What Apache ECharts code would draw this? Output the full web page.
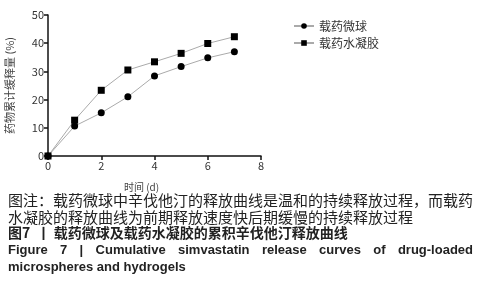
<!DOCTYPE html>
<html>
<head>
<meta charset="utf-8">
<script src="https://cdn.jsdelivr.net/npm/echarts@6/dist/echarts.min.js"></script>
<style>
  html, body { margin: 0; padding: 0; background: #fff; }
  #chart { width: 481px; height: 300px; }
</style>
</head>
<body>
<div id="chart"></div>
<script>
  // 数据
  var days = [0, 1, 2, 3, 4, 5, 6, 7]
  var microspheres = [0, 10.6, 15.3, 21.0, 28.4, 31.7, 34.8, 37.0]
  var hydrogel = [0, 12.7, 23.3, 30.5, 33.4, 36.4, 39.9, 42.3]
  var seriesNames = ['载药微球', '载药水凝胶']
  var captionLines = [
    '图注：载药微球中辛伐他汀的释放曲线是温和的持续释放过程，而载药',
    '水凝胶的释放曲线为前期释放速度快后期缓慢的持续释放过程',
    '图7  丨 载药微球及载药水凝胶的累积辛伐他汀释放曲线',
    'Figure 7 | Cumulative simvastatin release curves of drug-loaded',
    'microspheres and hydrogels'
  ]

  function pairs (ys) {
    return days.map(function (d, i) { return [d, ys[i]] })
  }

  // 两端对齐的英文标题行
  function justified (text, font, left, right, top) {
    var ctx = document.createElement('canvas').getContext('2d')
    ctx.font = font
    var words = text.split(' ')
    var total = 0
    words.forEach(function (w) { total += ctx.measureText(w).width })
    var gap = (right - left - total) / (words.length - 1)
    var x = left
    return words.map(function (w) {
      var el = { type: 'text', left: Math.round(x * 10) / 10, top: top, style: { text: w, font: font, fill: '#222' } }
      x += ctx.measureText(w).width + gap
      return el
    })
  }

  var myChart = echarts.init(document.getElementById('chart'))
  var cjk = '"Noto Sans CJK SC", sans-serif'
  var enFont = 'bold 13px "Liberation Sans", sans-serif'
  var option = {
    animation: false,
    grid: { left: 48, right: 220, top: 15, bottom: 144, containLabel: false },
    legend: {
      orient: 'vertical',
      left: 288,
      top: 15,
      itemWidth: 20,
      itemHeight: 7,
      itemGap: 5,
      textStyle: { fontFamily: cjk, fontSize: 12, color: '#333' },
      data: seriesNames
    },
    xAxis: {
      type: 'value',
      min: 0,
      max: 8,
      interval: 2,
      name: '时间 (d)',
      nameLocation: 'middle',
      nameGap: 26,
      nameTextStyle: { fontFamily: cjk, fontSize: 10, color: '#444', padding: [0, 26, 0, 0] },
      axisLine: { lineStyle: { color: '#111', width: 1.5 } },
      axisTick: { length: 4, lineStyle: { color: '#111', width: 1.5 } },
      axisLabel: { fontFamily: cjk, fontSize: 11, color: '#333', margin: 4 },
      splitLine: { show: false }
    },
    yAxis: {
      type: 'value',
      min: 0,
      max: 50,
      interval: 10,
      name: '药物累计缓释量 (%)',
      nameLocation: 'middle',
      nameGap: 33,
      nameTextStyle: { fontFamily: cjk, fontSize: 11, color: '#444' },
      axisLine: { show: true, lineStyle: { color: '#111', width: 1.5 } },
      axisTick: { show: true, length: 4, lineStyle: { color: '#111', width: 1.5 } },
      axisLabel: { fontFamily: cjk, fontSize: 11, color: '#333', margin: 4 },
      splitLine: { show: false }
    },
    series: [{
      name: seriesNames[0],
      type: 'line',
      data: pairs(microspheres),
      symbol: 'circle',
      symbolSize: 7,
      lineStyle: { color: '#aaa', width: 1 },
      itemStyle: { color: '#000' }
    }, {
      name: seriesNames[1],
      type: 'line',
      data: pairs(hydrogel),
      symbol: 'rect',
      symbolSize: 7,
      lineStyle: { color: '#aaa', width: 1 },
      itemStyle: { color: '#000' }
    }],
    graphic: [
      { type: 'text', left: 8, top: 193, style: { text: captionLines[0], font: '15px ' + cjk, fill: '#222' } },
      { type: 'text', left: 8, top: 210, style: { text: captionLines[1], font: '15px ' + cjk, fill: '#222' } },
      { type: 'text', left: 8, top: 226, style: { text: captionLines[2], font: 'bold 14px ' + cjk, fill: '#222' } },
      { type: 'text', left: 8, top: 261, style: { text: captionLines[4], font: enFont, fill: '#222' } }
    ].concat(justified(captionLines[3], enFont, 8, 473, 244))
  }
  myChart.setOption(option)
</script>
</body>
</html>
